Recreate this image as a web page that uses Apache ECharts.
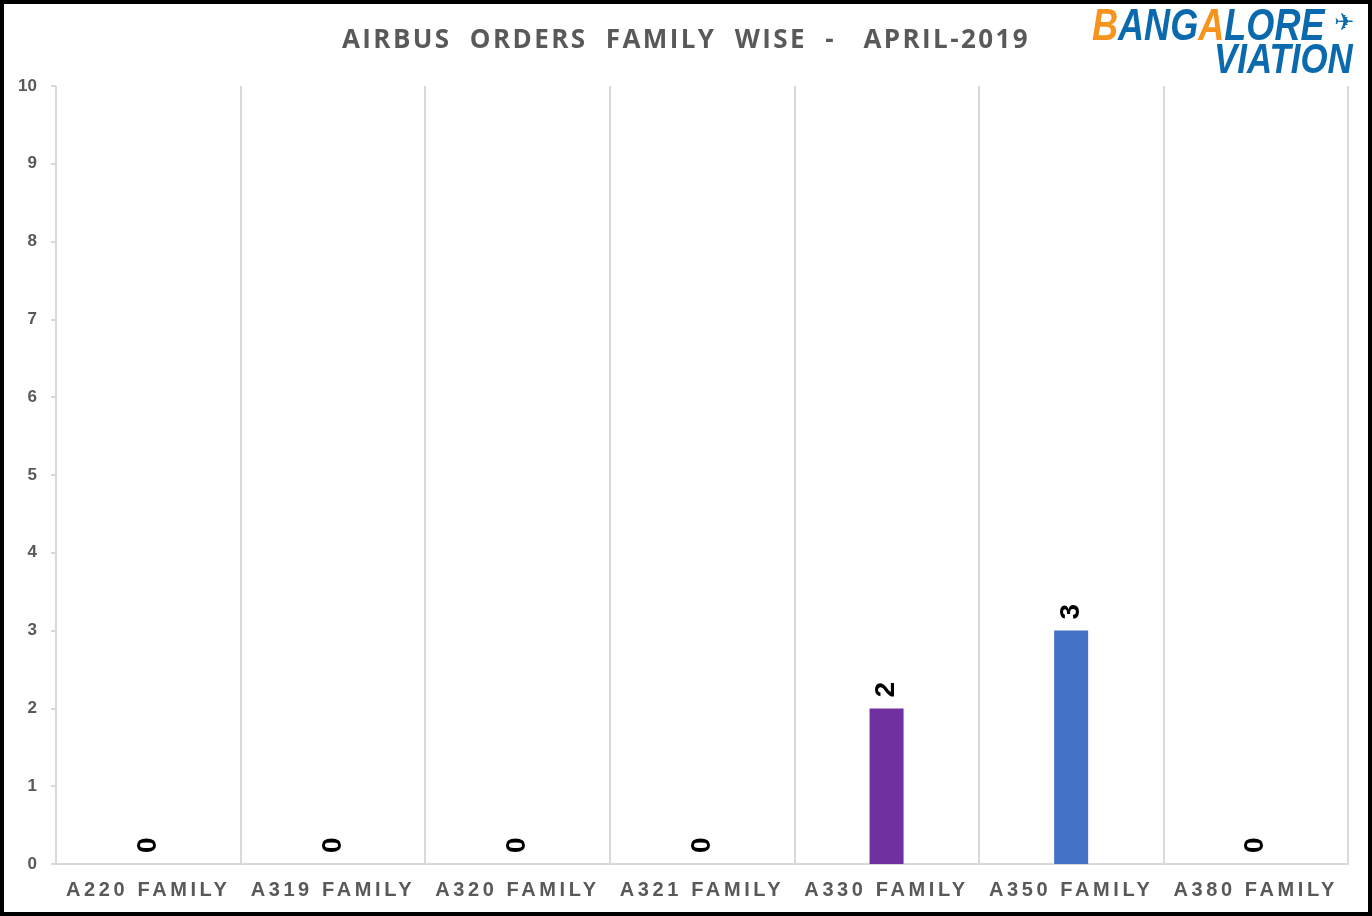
<!DOCTYPE html>
<html>
<head>
<meta charset="utf-8">
<script src="https://cdn.jsdelivr.net/npm/echarts@6/dist/echarts.min.js"></script>
<style>
html,body{margin:0;padding:0;background:#fff;}
#chart{width:1372px;height:916px;}
</style>
</head>
<body>
<div id="chart"></div>
<script>
const titleText = 'AIRBUS  ORDERS  FAMILY  WISE  -   APRIL-2019';
const categories = ['A220 FAMILY', 'A319 FAMILY', 'A320 FAMILY', 'A321 FAMILY', 'A330 FAMILY', 'A350 FAMILY', 'A380 FAMILY'];
const orders = [0, 0, 0, 0, 2, 3, 0];
const yTicks = [0, 1, 2, 3, 4, 5, 6, 7, 8, 9, 10];
const barColors = ['#4472C4', '#ED7D31', '#A5A5A5', '#FFC000', '#7030A0', '#4472C4', '#70AD47'];

// letter spacing for the spaced-out title and category labels (matched by font size)
(function () {
  const proto = CanvasRenderingContext2D.prototype;
  const desc = Object.getOwnPropertyDescriptor(proto, 'font');
  if (!desc || !('letterSpacing' in proto)) return;
  Object.defineProperty(proto, 'font', {
    configurable: true,
    get() { return desc.get.call(this); },
    set(v) {
      desc.set.call(this, v);
      let ls = '0px';
      if (/\b26px\b/.test(v)) ls = '2.4px';
      else if (/\b20px\b/.test(v)) ls = '3.6px';
      this.letterSpacing = ls;
    }
  });
})();

const chart = echarts.init(document.getElementById('chart'), null, {renderer: 'canvas'});
const option = {
  backgroundColor: '#fff',
  animation: false,
  title: {
    text: titleText,
    left: 'center',
    top: 21,
    textStyle: {fontFamily: 'Open Sans', fontWeight: 'bold', fontSize: 26, color: '#595959'}
  },
  grid: {left: 56, right: 24, top: 86, bottom: 52, containLabel: false},
  xAxis: {
    type: 'category',
    data: categories,
    axisTick: {show: false},
    axisLine: {show: true, lineStyle: {color: '#d9d9d9', width: 2}},
    splitLine: {show: true, lineStyle: {color: '#d9d9d9', width: 2}},
    axisLabel: {fontFamily: 'Liberation Sans', fontWeight: 'bold', fontSize: 20, color: '#595959', margin: 15, interval: 0}
  },
  yAxis: {
    type: 'value',
    min: yTicks[0], max: yTicks[yTicks.length - 1], interval: 1,
    axisLine: {show: false},
    axisTick: {show: true, length: 5, lineStyle: {color: '#d9d9d9', width: 2}},
    splitLine: {show: false},
    axisLabel: {fontFamily: 'Liberation Sans', fontWeight: 'bold', fontSize: 17, color: '#595959', margin: 19}
  },
  series: [{
    type: 'bar',
    data: orders.map((v, i) => ({value: v, itemStyle: {color: barColors[i]}})),
    barWidth: 34,
    label: {
      show: true,
      position: 'top',
      rotate: 90,
      align: 'left',
      verticalAlign: 'middle',
      distance: 11,
      fontFamily: 'Liberation Sans',
      fontWeight: 'bold',
      fontSize: 28,
      color: '#000'
    }
  }],
  graphic: [
    {type: 'rect', shape: {x: 2, y: 2, width: 1368, height: 912}, style: {fill: 'none', stroke: '#000', lineWidth: 4}, z: 100},
    {type: 'text', x: 1092, y: 6, scaleX: 0.82, style: {
      text: '{o|B}{b|ANG}{o|A}{b|LORE}',
      rich: {
        o: {fill: '#F7941D', fontFamily: 'Liberation Sans', fontWeight: 'bold', fontStyle: 'italic', fontSize: 44},
        b: {fill: '#0B6AAE', fontFamily: 'Liberation Sans', fontWeight: 'bold', fontStyle: 'italic', fontSize: 44}
      }
    }},
    {type: 'text', x: 1214, y: 40, scaleX: 0.83, style: {
      text: 'VIATION',
      fill: '#0B6AAE', fontFamily: 'Liberation Sans', fontWeight: 'bold', fontStyle: 'italic', fontSize: 42
    }},
    {type: 'text', x: 1334, y: 12, style: {text: '✈', fill: '#0B6AAE', fontFamily: 'DejaVu Sans', fontSize: 24}}
  ]
};
chart.setOption(option);
</script>
</body>
</html>
